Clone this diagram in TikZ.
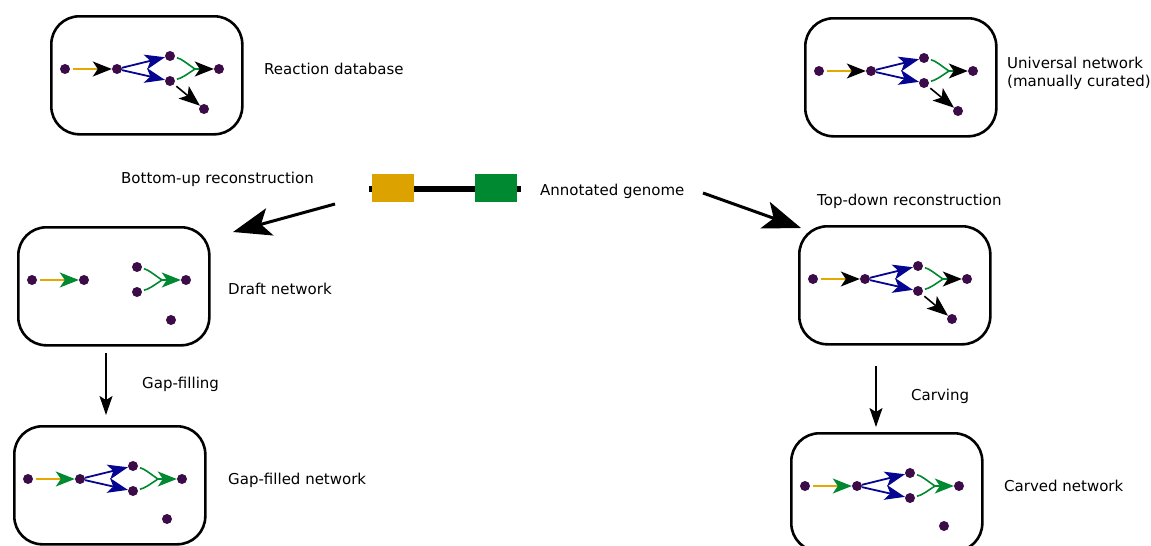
\documentclass[tikz,border=0pt]{standalone}
\usepackage{fontspec}
\setmainfont{DejaVu Sans}
\usetikzlibrary{arrows.meta}
\definecolor{dotc}{RGB}{60,12,72}
\definecolor{orangec}{RGB}{228,168,0}
\definecolor{boxorange}{RGB}{220,163,0}
\definecolor{greenc}{RGB}{0,137,48}
\definecolor{bluec}{RGB}{5,5,145}
\tikzset{
 netbox/.style={draw, line width=2.6pt, rounded corners=28pt, minimum width=191pt, minimum height=118pt, inner sep=0pt, anchor=north west},
 netdot/.style={circle, fill=dotc, minimum size=10pt, inner sep=0pt},
 orangeedge/.style={orangec, line width=1.5pt, shorten <=3pt},
 blueedge/.style={bluec, line width=1.8pt, -{Stealth[length=20pt,width=15pt,inset=5pt]}},
 greenedge/.style={greenc, line width=1.6pt, shorten <=2pt},
 mergeedge/.style={greenc, line width=1.6pt},
 blackedge/.style={black, line width=1.6pt, shorten <=3pt, -{Stealth[length=21pt,width=16pt,inset=5pt]}},
 tipblack/.style={-{Stealth[length=19pt,width=15pt,inset=5pt,color=black]}},
 tipgreen/.style={-{Stealth[length=19pt,width=15pt,inset=5pt,color=greenc]}},
 txt/.style={anchor=base west, inner sep=0pt, font=\fontsize{15}{18}\selectfont},
 bigarrow/.style={line width=3pt, -{Stealth[length=38pt,width=28pt,inset=9pt]}},
 thinarrow/.style={line width=1.3pt, -{Stealth[length=19pt,width=13pt,inset=4pt]}},
 genebox/.style={minimum width=42pt, minimum height=28pt, inner sep=0pt},
}
\newcommand{\netdots}[1]{%
 \node[netdot] (#11) at (15,54) {};
 \node[netdot] (#12) at (67,54) {};
 \node[netdot] (#13) at (120,41) {};
 \node[netdot] (#14) at (120,66) {};
 \node[netdot] (#15) at (169,54) {};
 \node[netdot] (#16) at (154,94) {};
 \coordinate (#1m) at (145,54);
}
\newcommand{\greencurves}[2]{%
 \draw[greenedge] (#13) .. controls +(12,3) and +(-9,-6) .. (#1m);
 \draw[greenedge] (#14) .. controls +(12,-3) and +(-9,6) .. (#1m);
 \draw[mergeedge,#2] (#1m) -- (#15);
}
\begin{document}
\begin{tikzpicture}[x=1pt,y=-1pt]
\useasboundingbox (0,0) rectangle (1151,546);

% Reaction database
\begin{scope}[shift={(50,15)}]
 \node[netbox] (A) at (0,0) {};
 \netdots{A}
 \draw[orangeedge,tipblack] (A1) -- (A2);
 \draw[blueedge] (A2) -- (A3);
 \draw[blueedge] (A2) -- (A4);
 \greencurves{A}{tipblack}
 \draw[blackedge] (A4) -- (A6);
\end{scope}

% Universal network
\begin{scope}[shift={(804,17)}]
 \node[netbox] (U) at (0,0) {};
 \netdots{U}
 \draw[orangeedge,tipblack] (U1) -- (U2);
 \draw[blueedge] (U2) -- (U3);
 \draw[blueedge] (U2) -- (U4);
 \greencurves{U}{tipblack}
 \draw[blackedge] (U4) -- (U6);
\end{scope}

% Draft network
\begin{scope}[shift={(17,226)}]
 \node[netbox] (D) at (0,0) {};
 \netdots{D}
 \draw[orangeedge,tipgreen] (D1) -- (D2);
 \greencurves{D}{tipgreen}
\end{scope}

% Gap-filled network
\begin{scope}[shift={(13,425)}]
 \node[netbox] (G) at (0,0) {};
 \netdots{G}
 \draw[orangeedge,tipgreen] (G1) -- (G2);
 \draw[blueedge] (G2) -- (G3);
 \draw[blueedge] (G2) -- (G4);
 \greencurves{G}{tipgreen}
\end{scope}

% Top-down network
\begin{scope}[shift={(798,225)}]
 \node[netbox] (T) at (0,0) {};
 \netdots{T}
 \draw[orangeedge,tipblack] (T1) -- (T2);
 \draw[blueedge] (T2) -- (T3);
 \draw[blueedge] (T2) -- (T4);
 \greencurves{T}{tipblack}
 \draw[blackedge] (T4) -- (T6);
\end{scope}

% Carved network
\begin{scope}[shift={(790,432)}]
 \node[netbox] (C) at (0,0) {};
 \netdots{C}
 \draw[orangeedge,tipgreen] (C1) -- (C2);
 \draw[blueedge] (C2) -- (C3);
 \draw[blueedge] (C2) -- (C4);
 \greencurves{C}{tipgreen}
\end{scope}

% Annotated genome
\coordinate (gl) at (369,189);
\coordinate (gr) at (521,189);
\draw[line width=6pt] (gl) -- (gr);
\node[genebox, fill=boxorange] (gene1) at (393,188) {};
\node[genebox, fill=greenc] (gene2) at (495.5,188) {};

% big arrows
\coordinate (bus) at (335,204);
\coordinate (bue) at (233,232);
\draw[bigarrow] (bus) -- (bue);
\coordinate (tds) at (703,193);
\coordinate (tde) at (801,228);
\draw[bigarrow] (tds) -- (tde);

% thin arrows
\coordinate (gfs) at (106,353);
\coordinate (gfe) at (106,415);
\draw[thinarrow] (gfs) -- (gfe);
\coordinate (cvs) at (876,366);
\coordinate (cve) at (876,427);
\draw[thinarrow] (cvs) -- (cve);

% texts
\node[txt] (trd) at (264,74.5) {Reaction database};
\node[txt] (tun) at (1007,68) {Universal network};
\node[txt] (tmc) at (1007,86) {(manually curated)};
\node[txt] (tbu) at (121,183) {Bottom-up reconstruction};
\node[txt] (tag) at (540,195) {Annotated genome};
\node[txt] (ttd) at (817,205) {Top-down reconstruction};
\node[txt] (tdn) at (228,294) {Draft network};
\node[txt] (tgf) at (142,388) {Gap-filling};
\node[txt] (tgn) at (228,484.5) {Gap-filled network};
\node[txt] (tcv) at (911,400.5) {Carving};
\node[txt] (tcn) at (1004,491.5) {Carved network};
\end{tikzpicture}
\end{document}
